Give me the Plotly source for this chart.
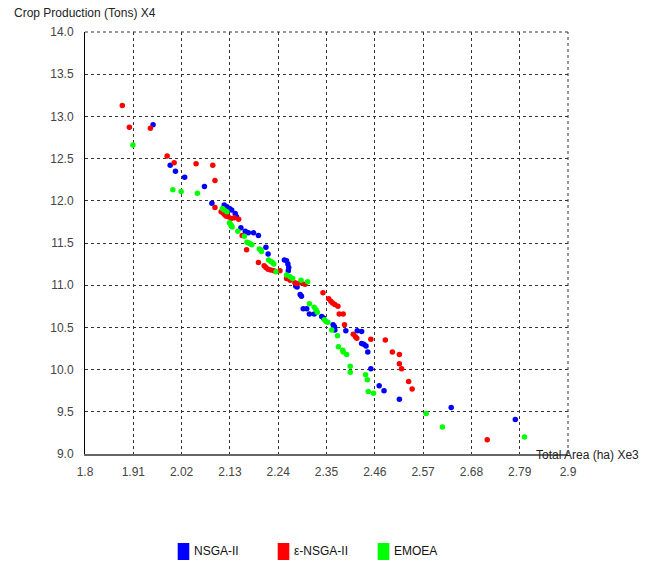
import plotly.graph_objects as go

# ---- data ----
nsga2_x = [1.955, 1.994, 2.006, 2.027, 2.072, 2.089, 2.117, 2.123, 2.129, 2.134, 2.142, 2.145,
           2.155, 2.165, 2.172, 2.184, 2.195, 2.212, 2.217, 2.254, 2.259, 2.262, 2.264, 2.263,
           2.280, 2.283, 2.290, 2.293, 2.297, 2.305, 2.311, 2.322, 2.339, 2.343, 2.365, 2.368,
           2.369, 2.394, 2.420, 2.430, 2.430, 2.435, 2.440, 2.444, 2.451, 2.470, 2.481, 2.516,
           2.634, 2.780]
nsga2_y = [12.90, 12.42, 12.35, 12.28, 12.17, 11.97, 11.95, 11.93, 11.91, 11.89, 11.85, 11.81,
           11.68, 11.64, 11.62, 11.62, 11.59, 11.45, 11.37, 11.30, 11.29, 11.25, 11.21, 11.17,
           10.99, 10.98, 10.89, 10.87, 10.72, 10.72, 10.66, 10.66, 10.63, 10.61, 10.53, 10.51,
           10.47, 10.46, 10.46, 10.45, 10.31, 10.30, 10.28, 10.21, 10.01, 9.81, 9.75, 9.65,
           9.55, 9.41]

ensga2_x = [1.885, 1.901, 1.949, 1.987, 2.003, 2.053, 2.091, 2.096, 2.096, 2.110, 2.114, 2.117,
            2.121, 2.126, 2.133, 2.140, 2.150, 2.158, 2.168, 2.195, 2.208, 2.212, 2.217, 2.223,
            2.230, 2.244, 2.259, 2.267, 2.278, 2.283, 2.292, 2.301, 2.342, 2.355, 2.360, 2.364,
            2.369, 2.376, 2.379, 2.388, 2.391, 2.411, 2.416, 2.419, 2.451, 2.484, 2.500, 2.516,
            2.516, 2.521, 2.537, 2.545, 2.716]
ensga2_y = [13.13, 12.87, 12.86, 12.53, 12.45, 12.44, 12.42, 12.24, 11.92, 11.87, 11.86, 11.84,
            11.82, 11.81, 11.79, 11.80, 11.78, 11.59, 11.42, 11.27, 11.23, 11.21, 11.19, 11.18,
            11.17, 11.17, 11.08, 11.06, 11.03, 11.02, 11.03, 11.01, 10.91, 10.84, 10.81, 10.79,
            10.77, 10.75, 10.66, 10.66, 10.53, 10.42, 10.39, 10.37, 10.36, 10.35, 10.21, 10.18,
            10.07, 10.01, 9.86, 9.77, 9.17]

emoea_x = [1.909, 2.000, 2.019, 2.056, 2.113, 2.117, 2.123, 2.129, 2.132, 2.133, 2.135, 2.148,
           2.163, 2.169, 2.173, 2.176, 2.180, 2.197, 2.200, 2.202, 2.218, 2.223, 2.227, 2.230,
           2.235, 2.259, 2.267, 2.273, 2.292, 2.307, 2.311, 2.322, 2.326, 2.329, 2.345, 2.349,
           2.353, 2.362, 2.375, 2.377, 2.387, 2.388, 2.396, 2.404, 2.404, 2.439, 2.443, 2.445,
           2.457, 2.577, 2.614, 2.801]
emoea_y = [12.66, 12.13, 12.11, 12.09, 11.91, 11.89, 11.87, 11.74, 11.72, 11.70, 11.69, 11.64,
           11.58, 11.51, 11.50, 11.49, 11.48, 11.43, 11.42, 11.40, 11.30, 11.28, 11.27, 11.25,
           11.16, 11.12, 11.10, 11.08, 11.06, 11.04, 10.78, 10.74, 10.71, 10.68, 10.59, 10.57,
           10.56, 10.47, 10.40, 10.27, 10.23, 10.21, 10.18, 10.04, 9.97, 9.94, 9.88, 9.74,
           9.72, 9.48, 9.32, 9.20]

x_ticks = [1.8, 1.91, 2.02, 2.13, 2.24, 2.35, 2.46, 2.57, 2.68, 2.79, 2.9]
x_tick_labels = ["1.8", "1.91", "2.02", "2.13", "2.24", "2.35", "2.46", "2.57", "2.68", "2.79", "2.9"]
y_ticks = [9.0, 9.5, 10.0, 10.5, 11.0, 11.5, 12.0, 12.5, 13.0, 13.5, 14.0]
y_tick_labels = ["9.0", "9.5", "10.0", "10.5", "11.0", "11.5", "12.0", "12.5", "13.0", "13.5", "14.0"]

series_names = ["NSGA-II", "\u03b5-NSGA-II", "EMOEA"]
series_colors = ["#0000ff", "#ff0000", "#00ff00"]

FONT = "Liberation Sans, Arial, sans-serif"

fig = go.Figure()
for xs, ys, name, col in zip([nsga2_x, ensga2_x, emoea_x], [nsga2_y, ensga2_y, emoea_y],
                             series_names, series_colors):
    fig.add_trace(go.Scatter(x=xs, y=ys, mode="markers", name=name, showlegend=False,
                             marker=dict(color=col, size=5.5, line=dict(width=0)),
                             cliponaxis=False))

fig.update_layout(
    width=652, height=565,
    margin=dict(l=85, r=84, t=32, b=111),
    paper_bgcolor="white", plot_bgcolor="white",
    font=dict(family=FONT, size=12, color="#444"),
    xaxis=dict(range=[1.8, 2.9], tickvals=x_ticks, ticktext=x_tick_labels,
               showgrid=True, gridcolor="#333", griddash="dot", gridwidth=1,
               showline=True, linecolor="#666", linewidth=2, zeroline=False,
               ticks="", ticklabelstandoff=6, tickfont=dict(size=12, color="#444")),
    yaxis=dict(range=[9, 14], tickvals=y_ticks, ticktext=y_tick_labels,
               showgrid=True, gridcolor="#333", griddash="dot", gridwidth=1,
               showline=True, linecolor="#000", linewidth=1, zeroline=False,
               ticks="", ticklabelstandoff=8, tickfont=dict(size=12, color="#444")),
)

# dotted top/right borders
fig.add_shape(type="line", xref="paper", yref="paper", x0=0, x1=1, y0=1, y1=1,
              line=dict(color="#333", width=1, dash="dot"))
fig.add_shape(type="line", xref="paper", yref="paper", x0=1, x1=1, y0=0, y1=1,
              line=dict(color="#333", width=1, dash="dot"))

# axis titles
fig.add_annotation(text="Crop Production (Tons) X4", xref="paper", yref="paper",
                   x=-0.151, y=1.046, xanchor="left", yanchor="middle", showarrow=False,
                   font=dict(family=FONT, size=12, color="#222"))
fig.add_annotation(text="Total Area (ha) Xe3", xref="paper", yref="paper",
                   x=0.93, y=-0.002, xanchor="left", yanchor="middle", showarrow=False,
                   font=dict(family=FONT, size=12, color="#222"))

# legend (manual)
leg_x = [0.1919, 0.399, 0.606]
for lx, name, col in zip(leg_x, series_names, series_colors):
    fig.add_shape(type="rect", xref="paper", yref="paper", x0=lx, x1=lx + 0.024,
                  y0=-0.2512, y1=-0.2109, fillcolor=col, line=dict(width=0))
    fig.add_annotation(text=name, xref="paper", yref="paper", x=lx + 0.029, y=-0.231,
                       xanchor="left", yanchor="middle", showarrow=False,
                       font=dict(family=FONT, size=12, color="#111"))

fig.write_html("out.html")
